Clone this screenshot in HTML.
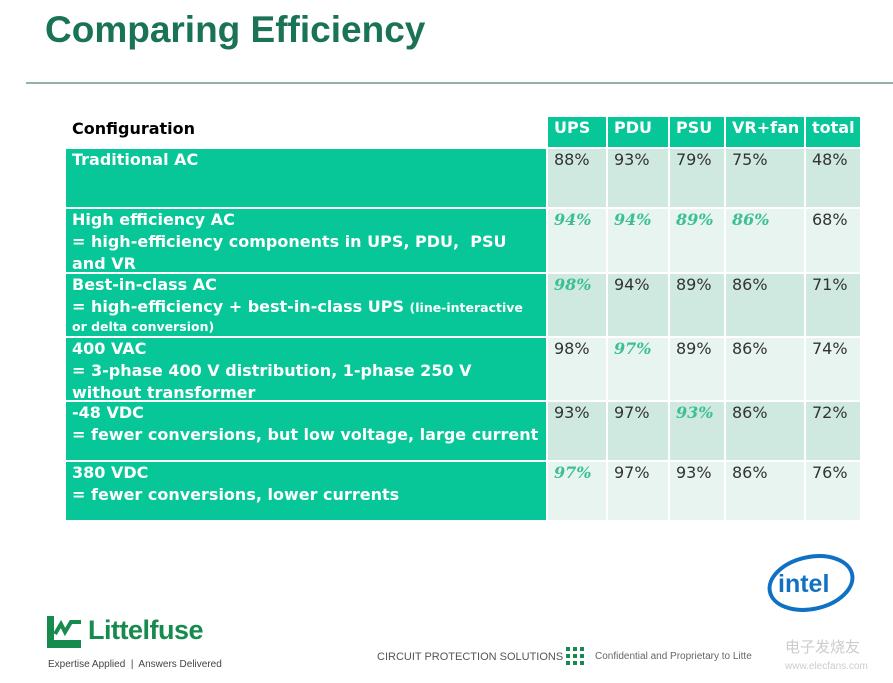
<!DOCTYPE html>
<html><head><meta charset="utf-8"><style>
body{margin:0;width:893px;height:683px;background:#fff;position:relative;overflow:hidden;font-family:"DejaVu Sans","Liberation Sans",sans-serif}
.a{position:absolute}
.t{left:45px;top:9px;font:bold 37px "Liberation Sans",sans-serif;color:#1b7357}
.hr{left:26px;top:82px;width:867px;height:2px;background:#8fb3a8}
.c{position:absolute;box-sizing:border-box;padding:0px 6px;font-size:16px;line-height:22px}
.g{background:#07c697;color:#fff;font-weight:bold}
.d{background:#cfe9e0;color:#333}
.l{background:#e7f4ef;color:#333}
.i{color:#3cbf95;font-style:italic;font-weight:bold;font-family:"DejaVu Serif",serif}
.s{font-size:12.5px}
</style></head><body>
<div class="a t">Comparing Efficiency</div>
<div class="a hr"></div>
<div class="c" style="left:66px;top:118px;width:480px;height:30px;font-weight:bold;color:#000">Configuration</div>
<div class="c g" style="left:548px;top:117px;width:58px;height:30px">UPS</div>
<div class="c g" style="left:608px;top:117px;width:60px;height:30px">PDU</div>
<div class="c g" style="left:670px;top:117px;width:54px;height:30px">PSU</div>
<div class="c g" style="left:726px;top:117px;width:78px;height:30px">VR+fan</div>
<div class="c g" style="left:806px;top:117px;width:54px;height:30px">total</div>

<div class="c g" style="left:66px;top:149px;width:480px;height:58px">Traditional AC</div>
<div class="c g" style="left:66px;top:209px;width:480px;height:63px">High efficiency AC<br>= high-efficiency components in UPS, PDU,&nbsp; PSU<br>and VR</div>
<div class="c g" style="left:66px;top:274px;width:480px;height:62px">Best-in-class AC<br>= high-efficiency + best-in-class UPS <span class="s">(line-interactive</span><br><span class="s" style="line-height:14px;position:relative;top:-4px">or delta conversion)</span></div>
<div class="c g" style="left:66px;top:338px;width:480px;height:62px">400 VAC<br>= 3-phase 400 V distribution, 1-phase 250 V<br>without transformer</div>
<div class="c g" style="left:66px;top:402px;width:480px;height:58px">-48 VDC<br>= fewer conversions, but low voltage, large current</div>
<div class="c g" style="left:66px;top:462px;width:480px;height:58px">380 VDC<br>= fewer conversions, lower currents</div>

<div class="c d" style="left:548px;top:149px;width:58px;height:58px">88%</div>
<div class="c d" style="left:608px;top:149px;width:60px;height:58px">93%</div>
<div class="c d" style="left:670px;top:149px;width:54px;height:58px">79%</div>
<div class="c d" style="left:726px;top:149px;width:78px;height:58px">75%</div>
<div class="c d" style="left:806px;top:149px;width:54px;height:58px">48%</div>

<div class="c l i" style="left:548px;top:209px;width:58px;height:63px">94%</div>
<div class="c l i" style="left:608px;top:209px;width:60px;height:63px">94%</div>
<div class="c l i" style="left:670px;top:209px;width:54px;height:63px">89%</div>
<div class="c l i" style="left:726px;top:209px;width:78px;height:63px">86%</div>
<div class="c l" style="left:806px;top:209px;width:54px;height:63px">68%</div>

<div class="c d i" style="left:548px;top:274px;width:58px;height:62px">98%</div>
<div class="c d" style="left:608px;top:274px;width:60px;height:62px">94%</div>
<div class="c d" style="left:670px;top:274px;width:54px;height:62px">89%</div>
<div class="c d" style="left:726px;top:274px;width:78px;height:62px">86%</div>
<div class="c d" style="left:806px;top:274px;width:54px;height:62px">71%</div>

<div class="c l" style="left:548px;top:338px;width:58px;height:62px">98%</div>
<div class="c l i" style="left:608px;top:338px;width:60px;height:62px">97%</div>
<div class="c l" style="left:670px;top:338px;width:54px;height:62px">89%</div>
<div class="c l" style="left:726px;top:338px;width:78px;height:62px">86%</div>
<div class="c l" style="left:806px;top:338px;width:54px;height:62px">74%</div>

<div class="c d" style="left:548px;top:402px;width:58px;height:58px">93%</div>
<div class="c d" style="left:608px;top:402px;width:60px;height:58px">97%</div>
<div class="c d i" style="left:670px;top:402px;width:54px;height:58px">93%</div>
<div class="c d" style="left:726px;top:402px;width:78px;height:58px">86%</div>
<div class="c d" style="left:806px;top:402px;width:54px;height:58px">72%</div>

<div class="c l i" style="left:548px;top:462px;width:58px;height:58px">97%</div>
<div class="c l" style="left:608px;top:462px;width:60px;height:58px">97%</div>
<div class="c l" style="left:670px;top:462px;width:54px;height:58px">93%</div>
<div class="c l" style="left:726px;top:462px;width:78px;height:58px">86%</div>
<div class="c l" style="left:806px;top:462px;width:54px;height:58px">76%</div>

<svg class="a" style="left:766px;top:553px" width="90" height="60"><ellipse cx="45" cy="30" rx="42" ry="26" fill="none" stroke="#1071c4" stroke-width="4" transform="rotate(-12 45 30)"/><text x="12" y="39" font-family="Liberation Sans,sans-serif" font-weight="bold" font-size="25" fill="#1071c4">intel</text></svg>

<svg class="a" style="left:45px;top:614px" width="40" height="36"><rect x="2" y="2" width="7" height="32" fill="#178a4e"/><rect x="2" y="26" width="34" height="8" fill="#178a4e"/><path d="M10 20 L16 10 L20 18 L26 8 L36 8" stroke="#178a4e" stroke-width="4" fill="none"/></svg>
<div class="a" style="left:88px;top:615px;font:bold 27px 'Liberation Sans Narrow','Liberation Sans',sans-serif;color:#178a4e;letter-spacing:-0.5px">Littelfuse</div>
<div class="a" style="left:48px;top:659px;font:10px 'Liberation Sans Narrow','Liberation Sans',sans-serif;color:#444">Expertise Applied &nbsp;|&nbsp; Answers Delivered</div>
<div class="a" style="left:377px;top:651px;font:11px 'Liberation Sans Narrow','Liberation Sans',sans-serif;color:#555">CIRCUIT PROTECTION SOLUTIONS</div>
<svg class="a" style="left:566px;top:647px" width="20" height="20"><g fill="#178a4e"><rect x="0" y="0" width="4" height="4"/><rect x="7" y="0" width="4" height="4"/><rect x="14" y="0" width="4" height="4"/><rect x="0" y="7" width="4" height="4"/><rect x="7" y="7" width="4" height="4"/><rect x="14" y="7" width="4" height="4"/><rect x="0" y="14" width="4" height="4"/><rect x="7" y="14" width="4" height="4"/><rect x="14" y="14" width="4" height="4"/></g></svg>
<div class="a" style="left:595px;top:651px;font:10px 'Liberation Sans Narrow','Liberation Sans',sans-serif;color:#666">Confidential and Proprietary to Litte</div>
<div class="a" style="left:785px;top:636px;font:15px 'Noto Sans CJK SC',sans-serif;color:#ccc">电子发烧友</div>
<div class="a" style="left:785px;top:661px;font:10px 'Liberation Sans',sans-serif;color:#ccc">www.elecfans.com</div>
</body></html>
